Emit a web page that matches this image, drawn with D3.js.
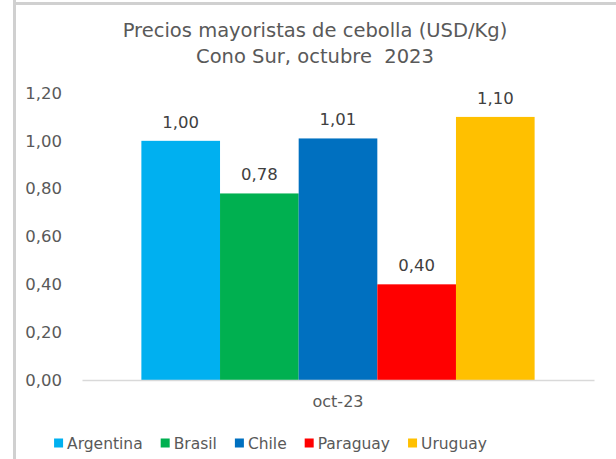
<!DOCTYPE html>
<html>
<head>
<meta charset="utf-8">
<script src="https://cdn.jsdelivr.net/npm/d3@7"></script>
<style>
  body { margin: 0; background: #fff; }
  text { font-family: "DejaVu Sans", sans-serif; }
</style>
</head>
<body>
<div id="chart"></div>
<script>
const titleLines = ["Precios mayoristas de cebolla (USD/Kg)", "Cono Sur, octubre  2023"];
const periods = ["oct-23"];
const countries = ["Argentina", "Brasil", "Chile", "Paraguay", "Uruguay"];
const prices = [1.00, 0.78, 1.01, 0.40, 1.10];
const colors = ["#00b0f0", "#00b050", "#0070c0", "#ff0000", "#ffc000"];
const yTicks = [0, 0.2, 0.4, 0.6, 0.8, 1.0, 1.2];

(function () {
  const width = 616, height = 459;
  const svg = d3.select("#chart").append("svg")
    .attr("width", width)
    .attr("height", height);

  const fmt = v => v.toFixed(2).replace(".", ",");
  const grey = "#595959";
  const font = '"DejaVu Sans", sans-serif';

  // frame lines at left and top
  svg.append("rect").attr("x", 13).attr("y", 0).attr("width", 3).attr("height", height).attr("fill", "#d0d0d0");
  svg.append("rect").attr("x", 16).attr("y", 2).attr("width", width - 16).attr("height", 3).attr("fill", "#d0d0d0");

  const margin = { left: 82, right: 22, top: 93, bottom: 79 };
  const plotW = width - margin.left - margin.right;
  const plotBottom = height - margin.bottom;

  const y = d3.scaleLinear().domain([0, 1.2]).range([plotBottom, margin.top]);
  const x0 = d3.scaleBand().domain(periods).range([margin.left, margin.left + plotW]).paddingOuter(0.151).paddingInner(0);
  const x1 = d3.scaleBand().domain(countries).range([0, x0.bandwidth()]).padding(0);

  // title
  svg.append("text")
    .attr("x", 315).attr("y", 37)
    .attr("text-anchor", "middle")
    .attr("fill", grey)
    .attr("font-size", 19.5)
    .style("white-space", "pre")
    .selectAll("tspan").data(titleLines).join("tspan")
    .attr("x", 315)
    .attr("dy", (d, i) => i ? 26 : 0)
    .text(d => d);

  // y axis
  const yAxis = svg.append("g")
    .attr("transform", `translate(${margin.left},0)`)
    .call(d3.axisLeft(y).tickValues(yTicks).tickFormat(fmt).tickSize(0).tickPadding(20));
  yAxis.select(".domain").remove();
  yAxis.selectAll("text").attr("fill", grey).attr("font-size", 16.5)
    .style("font-family", font);

  // bars
  const group = svg.append("g").selectAll("g").data(periods).join("g")
    .attr("transform", d => `translate(${x0(d)},0)`);

  group.selectAll("rect")
    .data(countries.map((c, i) => ({ c, v: prices[i], col: colors[i] })))
    .join("rect")
    .attr("x", d => x1(d.c))
    .attr("y", d => y(d.v))
    .attr("width", x1.bandwidth())
    .attr("height", d => y(0) - y(d.v))
    .attr("fill", d => d.col);

  group.selectAll("text.val")
    .data(countries.map((c, i) => ({ c, v: prices[i] })))
    .join("text")
    .attr("class", "val")
    .attr("x", d => x1(d.c) + x1.bandwidth() / 2)
    .attr("y", d => y(d.v) - 13)
    .attr("text-anchor", "middle")
    .attr("fill", "#404040")
    .attr("font-size", 16.5)
    .text(d => fmt(d.v));

  // x axis baseline and category label
  const xAxis = svg.append("g")
    .attr("transform", `translate(0,${plotBottom})`)
    .call(d3.axisBottom(x0).tickSize(0).tickPadding(16));
  xAxis.select(".domain").attr("stroke", "#d9d9d9").attr("stroke-width", 1.5);
  xAxis.selectAll("text").attr("fill", grey).attr("font-size", 16)
    .attr("dy", null).attr("y", 27)
    .style("font-family", font);

  // legend
  const legend = svg.append("g").attr("transform", "translate(0,443)");
  const items = legend.selectAll("g").data(countries).join("g");
  items.append("rect")
    .attr("y", -4.5).attr("width", 9).attr("height", 9)
    .attr("fill", (d, i) => colors[i]);
  items.append("text")
    .attr("x", 13).attr("y", 5.5)
    .attr("fill", grey)
    .attr("font-size", 15.5)
    .text(d => d);
  let cx = 0;
  const pos = [];
  items.each(function () {
    pos.push(cx);
    cx += this.getBBox().width + 18;
  });
  const total = cx - 18;
  const start = 270.5 - total / 2;
  items.attr("transform", (d, i) => `translate(${start + pos[i]},0)`);
})();
</script>
</body>
</html>
